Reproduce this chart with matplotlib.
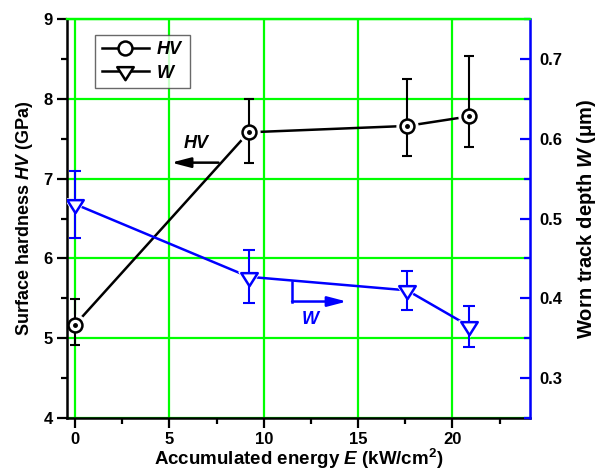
import matplotlib
matplotlib.use("Agg")
import matplotlib.pyplot as plt
from matplotlib.lines import Line2D
from matplotlib.path import Path
from matplotlib.ticker import MultipleLocator

# accumulated energy (kW/cm2)
energy = [0, 9.2, 17.6, 20.9]

# surface hardness HV (GPa) with lower / upper error
hv = [5.17, 7.58, 7.66, 7.78]
hv_err_lo = [0.26, 0.38, 0.38, 0.39]
hv_err_hi = [0.32, 0.42, 0.59, 0.75]

# worn track depth W (um)
w = [0.518, 0.427, 0.410, 0.365]
w_err = [0.042, 0.033, 0.024, 0.026]

plt.rcParams['font.family'] = 'Liberation Sans'
plt.rcParams['font.weight'] = 'bold'
plt.rcParams['mathtext.fontset'] = 'custom'
plt.rcParams['mathtext.rm'] = 'Liberation Sans:bold'
plt.rcParams['mathtext.bf'] = 'Liberation Sans:bold'
plt.rcParams['mathtext.it'] = 'Liberation Sans:bold:italic'

GREEN = '#00ff00'
BLUE = '#0000ff'

# down triangle centred on its centroid
tri = Path([(-1, 0.527), (1, 0.527), (0, -1.053), (-1, 0.527)],
           [Path.MOVETO, Path.LINETO, Path.LINETO, Path.CLOSEPOLY])

fig = plt.figure(figsize=(6, 4.74), dpi=100)
ax = fig.add_axes([0.111, 0.118, 0.772, 0.842])
ax2 = ax.twinx()

lw = 1.8

# HV series, left axis
ax.plot(energy, hv, color='k', lw=lw, zorder=2)
ax.plot(energy, hv, ls='none', marker='o', ms=15, mfc='white', mec='white', zorder=2.5)
ax.errorbar(energy, hv, yerr=[hv_err_lo, hv_err_hi], fmt='none', ecolor='k',
            elinewidth=1.5, capsize=3.8, capthick=1.5, zorder=3)
ax.plot(energy, hv, ls='none', marker='o', ms=10, mfc='white', mec='k', mew=1.8, zorder=4)
ax.plot(energy, hv, ls='none', marker='o', ms=2.5, color='k', zorder=5)

# W series, right axis
ax2.plot(energy, w, color=BLUE, lw=lw, zorder=2)
ax2.plot(energy, w, ls='none', marker=tri, ms=16, mfc='white', mec='white', zorder=2.5)
ax2.errorbar(energy, w, yerr=w_err, fmt='none', ecolor=BLUE,
             elinewidth=1.5, capsize=4.2, capthick=1.5, zorder=3)
ax2.plot(energy, w, ls='none', marker=tri, ms=12.5, mfc='white', mec=BLUE, mew=1.8, zorder=4)

# axes ranges and ticks
ax.set_xlim(-0.45, 24.1)
ax.set_ylim(4, 9)
ax2.set_ylim(0.25, 0.75)
ax.xaxis.set_major_locator(MultipleLocator(5))
ax.xaxis.set_minor_locator(MultipleLocator(2.5))
ax.yaxis.set_major_locator(MultipleLocator(1))
ax.yaxis.set_minor_locator(MultipleLocator(0.5))
ax2.yaxis.set_major_locator(MultipleLocator(0.1))
ax2.yaxis.set_minor_locator(MultipleLocator(0.05))
ax2.set_yticks([0.3, 0.4, 0.5, 0.6, 0.7])

ax.grid(True, which='major', color=GREEN, lw=1.6)
ax.set_axisbelow(True)

for a in (ax, ax2):
    a.spines['top'].set_color(GREEN)
    a.spines['top'].set_linewidth(1.6)
ax.spines['left'].set_linewidth(1.8)
ax.spines['bottom'].set_linewidth(1.8)
ax2.spines['right'].set_color(BLUE)
ax2.spines['right'].set_linewidth(1.8)
ax2.spines['left'].set_visible(False)
ax2.spines['bottom'].set_visible(False)

ax.tick_params(axis='both', which='major', direction='out', length=7, width=1.6,
               labelsize=12, pad=3)
ax.tick_params(axis='both', which='minor', direction='out', length=4, width=1.6)
ax2.tick_params(axis='y', which='major', direction='in', length=7, width=1.6,
                color=BLUE, labelcolor='k', labelsize=12, pad=7)
ax2.tick_params(axis='y', which='minor', direction='in', length=4, width=1.6, color=BLUE)
for lab in ax.get_xticklabels() + ax.get_yticklabels() + ax2.get_yticklabels():
    lab.set_fontweight('bold')

ax.set_xlabel(r'Accumulated energy $E$ (kW/cm$^2$)', fontsize=13.5, fontweight='bold', labelpad=0)
ax.set_ylabel(r'Surface hardness $HV$ (GPa)', fontsize=13, fontweight='bold', labelpad=6)
ax2.set_ylabel(r'Worn track depth $W$ ($\mathregular{\mu}$m)', fontsize=14.5, fontweight='bold',
               labelpad=9)

# arrows pointing to the matching axis
ax.annotate('', xy=(5.1, 7.2), xytext=(7.6, 7.2),
            arrowprops=dict(arrowstyle='-|>,head_length=1.15,head_width=0.3',
                            color='k', lw=1.8, shrinkA=0, shrinkB=0, mutation_scale=10))
ax.text(6.45, 7.44, r'$HV$', fontsize=13, ha='center', va='center')

ax2.plot([11.5, 11.5], [0.421, 0.396], color=BLUE, lw=1.8)
ax2.annotate('', xy=(14.4, 0.396), xytext=(11.5, 0.396),
             arrowprops=dict(arrowstyle='-|>,head_length=1.15,head_width=0.3',
                             color=BLUE, lw=1.8, shrinkA=0, shrinkB=0, mutation_scale=10))
ax2.text(12.5, 0.373, r'$W$', fontsize=13, ha='center', va='center', color=BLUE)

# legend with black symbols for both series
handles = [
    Line2D([], [], color='k', lw=1.8, marker='o', ms=10, mfc='white', mec='k', mew=1.8),
    Line2D([], [], color='k', lw=1.8, marker=tri, ms=12.5, mfc='white', mec='k', mew=1.8),
]
leg = ax2.legend(handles, [r'$HV$', r'$W$'], loc='upper left',
                 bbox_to_anchor=(0.062, 0.96), fontsize=13, frameon=True, fancybox=False,
                 edgecolor='#444444', handlelength=2.6, handletextpad=0.4,
                 borderpad=0.35, labelspacing=0.35, borderaxespad=0)
leg.get_frame().set_linewidth(1.0)

fig.savefig('out.png', dpi=100)
